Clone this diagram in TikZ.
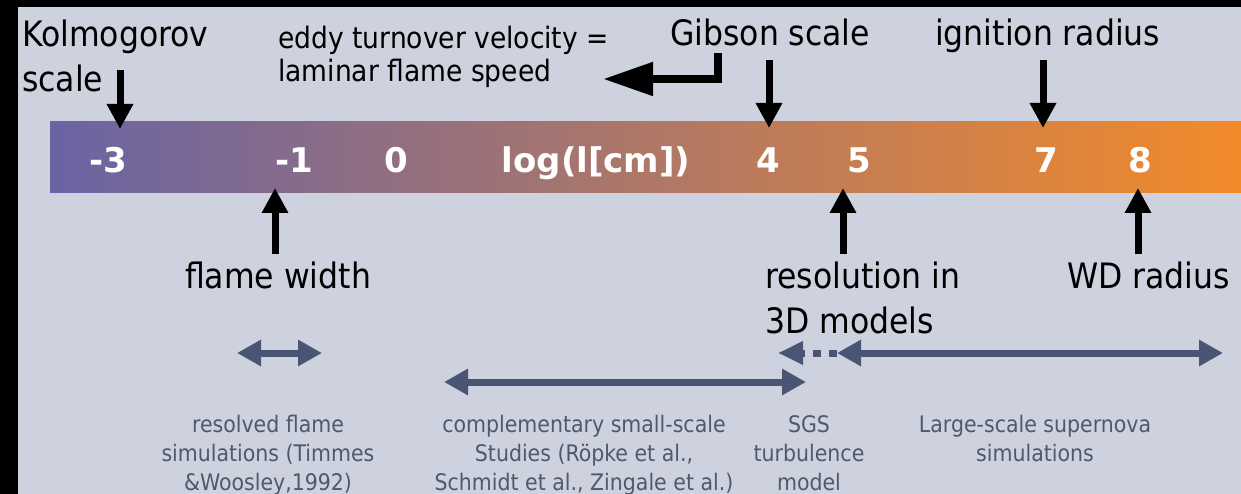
\documentclass[tikz,border=0pt]{standalone}
\usepackage{fontspec}
\setmainfont{DejaVu Sans Condensed}
\newfontfamily\tickfont{DejaVu Sans}
\usetikzlibrary{arrows.meta}

\definecolor{panel}{RGB}{205,210,222}
\definecolor{spancol}{RGB}{74,85,115}
\definecolor{notecol}{RGB}{80,88,110}
\definecolor{barleft}{RGB}{106,100,164}
\definecolor{barmid}{RGB}{184,114,92}
\definecolor{barright}{RGB}{242,138,42}

\tikzset{
  scalelabel/.style={anchor=base west, inner sep=0pt, align=left, font=\fontsize{35}{45}\selectfont},
  ticklabel/.style={anchor=base, inner sep=0pt, text=white, font=\tickfont\fontsize{34}{34}\selectfont\bfseries},
  note/.style={anchor=base, inner sep=0pt, align=center, text=notecol, font=\fontsize{22.8}{29}\selectfont},
  pin/.style={line width=7pt, -{Triangle[length=25pt,width=25pt]}},
  span/.style={spancol, line width=7pt, {Triangle[length=24pt,width=25pt]}-{Triangle[length=24pt,width=25pt]}},
}

\begin{document}
\begin{tikzpicture}[x=1pt,y=-1pt]
             \useasboundingbox (0,0) rectangle (1241,494);
             \fill[black] (0,0) rectangle (1241,494);
             \fill[panel] (18,7) rectangle (1241,494);

             \shade[left color=barleft, middle color=barmid, right color=barright] (50,122) rectangle (1241,193);

             \node[ticklabel] (tm3) at (108,173) {-3};
             \node[ticklabel] (tm1) at (294,173) {-1};
             \node[ticklabel] (t0) at (396,173) {0};
             \node[ticklabel] (tlog) at (596,173) {log(l[cm])};
             \node[ticklabel] (t4) at (768,173) {4};
             \node[ticklabel] (t5) at (859,173) {5};
             \node[ticklabel] (t7) at (1046,173) {7};
             \node[ticklabel] (t8) at (1140,173) {8};

             \node[scalelabel] (kolmo) at (22,92) {Kolmogorov\\scale};
             \node[scalelabel, font=\fontsize{29.5}{33}\selectfont] (eddy) at (278,82) {eddy turnover velocity =\\laminar flame speed};
             \node[scalelabel] (gibson) at (670,46) {Gibson scale};
             \node[scalelabel] (ignit) at (935,46) {ignition radius};
             \node[scalelabel, anchor=base] (flame) at (278,288) {flame width};
             \node[scalelabel] (resol) at (765,333) {resolution in\\3D models};
             \node[scalelabel] (wdrad) at (1067,288) {WD radius};

             \coordinate (kol tail) at (120,70);
             \coordinate (kol head) at (120,129);
             \coordinate (gib tail) at (769,60);
             \coordinate (gib head) at (769,128);
             \coordinate (ign tail) at (1043,60);
             \coordinate (ign head) at (1043,128);
             \coordinate (fw tail) at (275,254);
             \coordinate (fw head) at (275,188);
             \coordinate (res tail) at (843,254);
             \coordinate (res head) at (843,188);
             \coordinate (wd tail) at (1138,254);
             \coordinate (wd head) at (1138,188);
             \draw[pin] (kol tail) -- (kol head);
             \draw[pin] (gib tail) -- (gib head);
             \draw[pin] (ign tail) -- (ign head);
             \draw[pin] (fw tail) -- (fw head);
             \draw[pin] (res tail) -- (res head);
             \draw[pin] (wd tail) -- (wd head);

             \coordinate (elbow start) at (718,53);
             \coordinate (elbow end) at (603,79);
             \draw[line width=8pt, -{Triangle[length=50pt,width=32pt]}] (elbow start) |- (elbow end);

             \coordinate (flamesim l) at (237,353);
             \coordinate (flamesim r) at (322,353);
             \coordinate (small l) at (444,382);
             \coordinate (small r) at (806,382);
             \coordinate (sgs l) at (778,353);
             \coordinate (large l) at (837,353);
             \coordinate (large r) at (1223,353);
             \draw[span] (flamesim l) -- (flamesim r);
             \draw[span] (small l) -- (small r);
             \draw[span] (large l) -- (large r);
             \draw[spancol, line width=7pt, dash pattern=on 8pt off 8pt, -{Triangle[length=25pt,width=22pt]}] (large l) -- (sgs l);

             \node[note] (resolved) at (268,490) {resolved flame\\simulations (Timmes\\\&Woosley,1992)};
             \node[note] (compl) at (584,490) {complementary small-scale\\Studies (Röpke et al.,\\Schmidt et al., Zingale et al.)};
             \node[note] (sgs) at (809,490) {SGS\\turbulence\\model};
             \node[note] (large) at (1035,461) {Large-scale supernova\\simulations};
             \end{tikzpicture}
\end{document}
